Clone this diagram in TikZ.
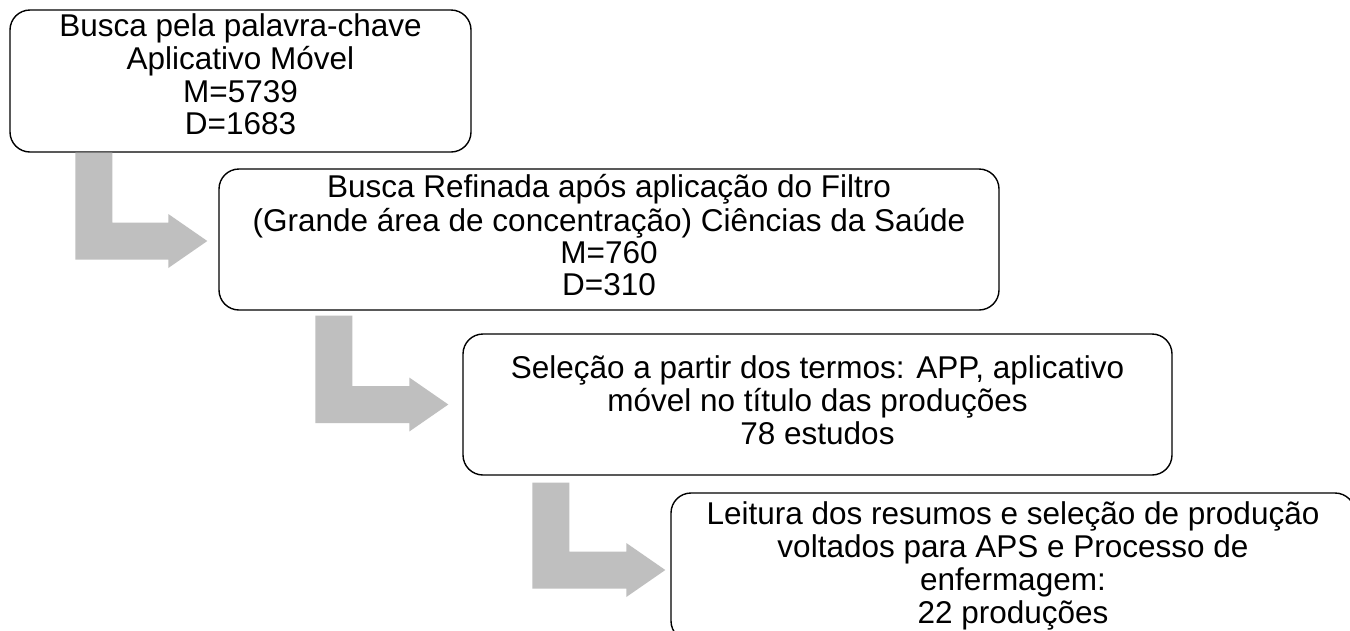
\documentclass[tikz,border=0pt]{standalone}
\usepackage{fontspec}
\setmainfont{Liberation Sans}
\usetikzlibrary{calc}
\definecolor{arrowgray}{HTML}{BFBFBF}
\tikzset{
  stepbox/.style={draw=black, line width=1.4pt, rounded corners=20pt, fill=white,
    align=center, inner sep=0pt, font=\fontsize{31.5}{30.5}\selectfont},
  bentfill/.style={fill=arrowgray, draw=none}
}
\newcommand\bentarrow[2]{%
  \fill[bentfill] let \p1=(#1), \p2=(#2) in
    (\x1,\y1) -- (\x1+37pt,\y1) -- (\x1+37pt,\y2+18.5pt) -- (\x2-39pt,\y2+18.5pt)
    -- (\x2-39pt,\y2+27pt) -- (\x2,\y2) -- (\x2-39pt,\y2-27pt)
    -- (\x2-39pt,\y2-18.5pt) -- (\x1,\y2-18.5pt) -- cycle;}
\begin{document}
\begin{tikzpicture}[x=1pt,y=-1pt]
\useasboundingbox (0,0) rectangle (1350,630);
\clip (0,0) rectangle (1350,630);
\fill[white] (0,0) rectangle (1350,630);

\node[stepbox, minimum width=461pt, minimum height=142pt] (b1) at (240.5,81)
  {\strut Busca pela palavra-chave\\\strut Aplicativo Móvel\\\strut M=5739\\\strut D=1683\rule[-14pt]{0pt}{14pt}};
\node[stepbox, minimum width=780pt, minimum height=141pt] (b2) at (609,239.5)
  {\strut Busca Refinada após aplicação do Filtro\\\strut (Grande área de concentração) Ciências da Saúde\\\strut M=760\\\strut D=310};
\node[stepbox, minimum width=709pt, minimum height=141pt] (b3) at (817.5,404.5)
  {\strut Seleção a partir dos termos: APP, aplicativo\\\strut móvel no título das produções\\\strut 78 estudos};
\node[stepbox, minimum width=684pt, minimum height=148pt] (b4) at (1013,567)
  {\strut Leitura dos resumos e seleção de produção\\\strut voltados para APS e Processo de\\\strut enfermagem:\\\strut 22 produções};

\coordinate (s1) at ($(b1.south west)+(66,0)$);
\coordinate (t1) at ($(b2.west)+(-11,1.5)$);
\coordinate (s2) at ($(b2.south west)+(97,5)$);
\coordinate (t2) at ($(b3.west)+(-14,0)$);
\coordinate (s3) at ($(b3.south west)+(70,7)$);
\coordinate (t3) at ($(b4.west)+(-5,3)$);

\bentarrow{s1}{t1}
\bentarrow{s2}{t2}
\bentarrow{s3}{t3}
\end{tikzpicture}
\end{document}
